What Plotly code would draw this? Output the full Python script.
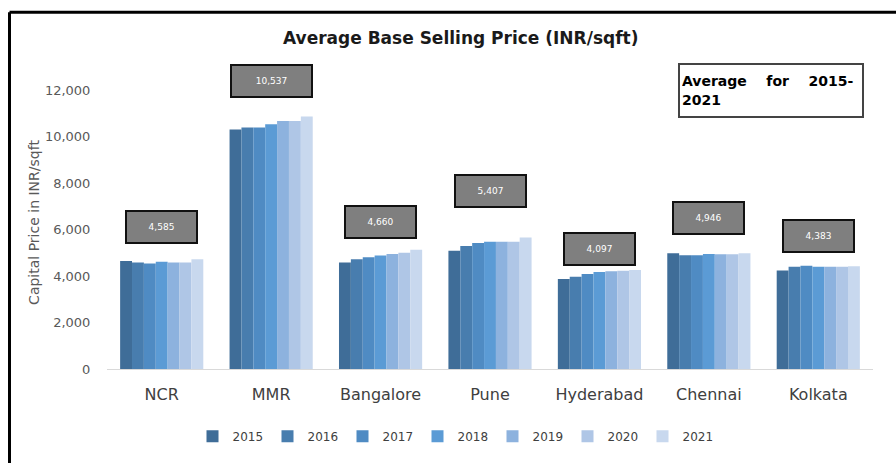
import plotly.graph_objects as go

categories = ["NCR", "MMR", "Bangalore", "Pune", "Hyderabad", "Chennai", "Kolkata"]
years = ["2015", "2016", "2017", "2018", "2019", "2020", "2021"]

# values per year, order follows categories
v2015 = [4640, 10300, 4580, 5090, 3870, 4980, 4240]
v2016 = [4580, 10380, 4720, 5290, 3970, 4890, 4400]
v2017 = [4540, 10380, 4810, 5420, 4090, 4890, 4440]
v2018 = [4610, 10520, 4880, 5470, 4170, 4950, 4400]
v2019 = [4580, 10670, 4950, 5470, 4200, 4930, 4400]
v2020 = [4580, 10670, 5000, 5470, 4230, 4930, 4400]
v2021 = [4720, 10860, 5130, 5650, 4260, 4980, 4420]

avg_labels = ["4,585", "10,537", "4,660", "5,407", "4,097", "4,946", "4,383"]

series = [v2015, v2016, v2017, v2018, v2019, v2020, v2021]
colors = ["#3f6d98", "#487dae", "#4f8bc3", "#5b9bd5", "#8db2de", "#afc6e6", "#c8d8ee"]

# layout: gap from tallest bar to label box centre
label_gap = [1370, 1520, 1210, 2000, 890, 1500, 1280]

FONT = "DejaVu Sans"

fig = go.Figure()
for yr, vals, col in zip(years, series, colors):
    fig.add_trace(go.Bar(name=yr, x=categories, y=vals, marker=dict(color=col, line=dict(width=0))))

annotations = []
for i, cat in enumerate(categories):
    top = max(s[i] for s in series)
    annotations.append(dict(
        x=cat, y=top + label_gap[i], xref="x", yref="y", text=avg_labels[i],
        showarrow=False, bgcolor="#7f7f7f", bordercolor="#111111", borderwidth=2,
        width=65 if i != 1 else 75, height=26, borderpad=2,
        font=dict(family=FONT, size=9, color="white"),
    ))

annotations.append(dict(
    xref="paper", yref="paper", x=(678 - 107) / 766, y=(372 - 63) / 296,
    xanchor="left", yanchor="top", showarrow=False, align="left",
    text="<b>Average&nbsp;&nbsp;&nbsp;&nbsp;for&nbsp;&nbsp;&nbsp;&nbsp;2015-</b><br><b>2021</b>",
    bordercolor="#444444", borderwidth=2, bgcolor="white", width=178, height=47, borderpad=2,
    font=dict(family=FONT, size=14, color="black"),
))

annotations.append(dict(
    xref="paper", yref="paper", x=(460 - 107) / 766, y=(372 - 38) / 296,
    xanchor="center", yanchor="middle", showarrow=False,
    text="<b>Average Base Selling Price (INR/sqft)</b>",
    font=dict(family=FONT, size=17, color="#1a1a1a"),
))

shapes = [
    dict(type="line", xref="paper", yref="paper",
         x0=(9.5 - 107) / 766, x1=(910 - 107) / 766,
         y0=(372 - 11.5) / 296, y1=(372 - 11.5) / 296,
         line=dict(color="black", width=3), layer="below"),
    dict(type="line", xref="paper", yref="paper",
         x0=(9.5 - 107) / 766, x1=(9.5 - 107) / 766,
         y0=(372 - 480) / 296, y1=(372 - 11.5) / 296,
         line=dict(color="black", width=3), layer="below"),
]

fig.update_layout(
    width=896, height=463,
    margin=dict(l=107, r=23, t=76, b=91),
    paper_bgcolor="white", plot_bgcolor="white",
    barmode="group", bargap=0.24, bargroupgap=0,
    font=dict(family=FONT, color="#404040"),
    annotations=annotations, shapes=shapes,
    legend=dict(orientation="h", x=(455 - 107) / 766, xanchor="center", y=(372 - 440) / 296, yanchor="middle",
                font=dict(size=12, color="#404040"), itemwidth=30, traceorder="normal",
                entrywidth=30, entrywidthmode="pixels"),
    showlegend=True,
)
fig.update_xaxes(showline=True, linecolor="#d9d9d9", linewidth=1, ticks="outside", ticklen=11,
                 tickcolor="rgba(0,0,0,0)",
                 tickfont=dict(size=16, color="#404040"), showgrid=False)
fig.update_yaxes(range=[0, 12600], tickvals=[0, 2000, 4000, 6000, 8000, 10000, 12000],
                 tickformat=",d", showgrid=False, zeroline=False, showline=False,
                 tickfont=dict(size=13, color="#595959"), ticks="outside", ticklen=13,
                 tickcolor="rgba(0,0,0,0)",
                 title=dict(text="Capital Price in INR/sqft", font=dict(size=14, color="#595959"), standoff=2))

fig.write_html("out.html", config={"displayModeBar": False},
               post_script="document.body.style.margin='0px';")
